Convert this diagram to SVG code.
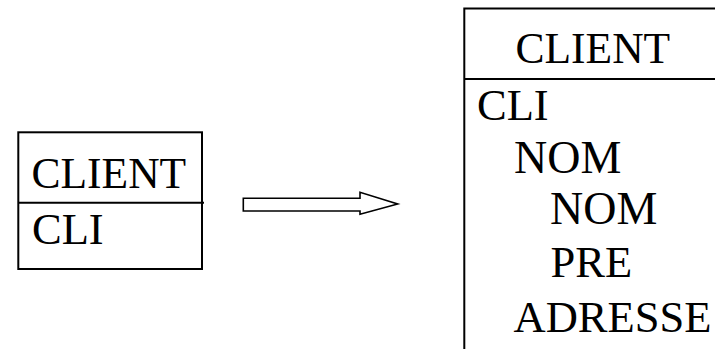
<svg xmlns="http://www.w3.org/2000/svg" width="715" height="349" viewBox="0 0 715 349">
<style>
.box{fill:none;stroke:#000;stroke-width:2}
.ln{stroke:#000;stroke-width:2;fill:none}
.arrow{fill:#fff;stroke:#000;stroke-width:1.6;stroke-linejoin:miter}
</style>
<g id="client-small">
<rect class="box" x="18.3" y="132.3" width="183.7" height="136.7"/>
<line class="ln" x1="18.3" y1="202.7" x2="204" y2="202.7"/>
<text font-family="Liberation Serif" font-size="43.5" fill="#000" x="31.5" y="188.3">CLIENT</text>
<text font-family="Liberation Serif" font-size="44.5" fill="#000" x="32" y="244.3">CLI</text>
</g>
<g id="connectors">
<polygon class="arrow" points="243.3,198.3 360,198.3 360,192.3 397.7,204 360,214.3 360,211 243.3,211"/>
</g>
<g id="client-expanded">
<rect class="box" x="464.3" y="8.5" width="260" height="350"/>
<line class="ln" x1="464.3" y1="79" x2="715" y2="79"/>
<text font-family="Liberation Serif" font-size="43.5" fill="#000" x="515.5" y="63.3">CLIENT</text>
<text font-family="Liberation Serif" font-size="44.5" fill="#000" x="477" y="119.5">CLI</text>
<text font-family="Liberation Serif" font-size="46" fill="#000" x="514" y="173.3">NOM</text>
<text font-family="Liberation Serif" font-size="46" fill="#000" x="550" y="224">NOM</text>
<text font-family="Liberation Serif" font-size="44.5" fill="#000" x="550.5" y="276.7">PRE</text>
<text font-family="Liberation Serif" font-size="44.5" fill="#000" x="513.6" y="331.5">ADRESSE</text>
</g>
</svg>
